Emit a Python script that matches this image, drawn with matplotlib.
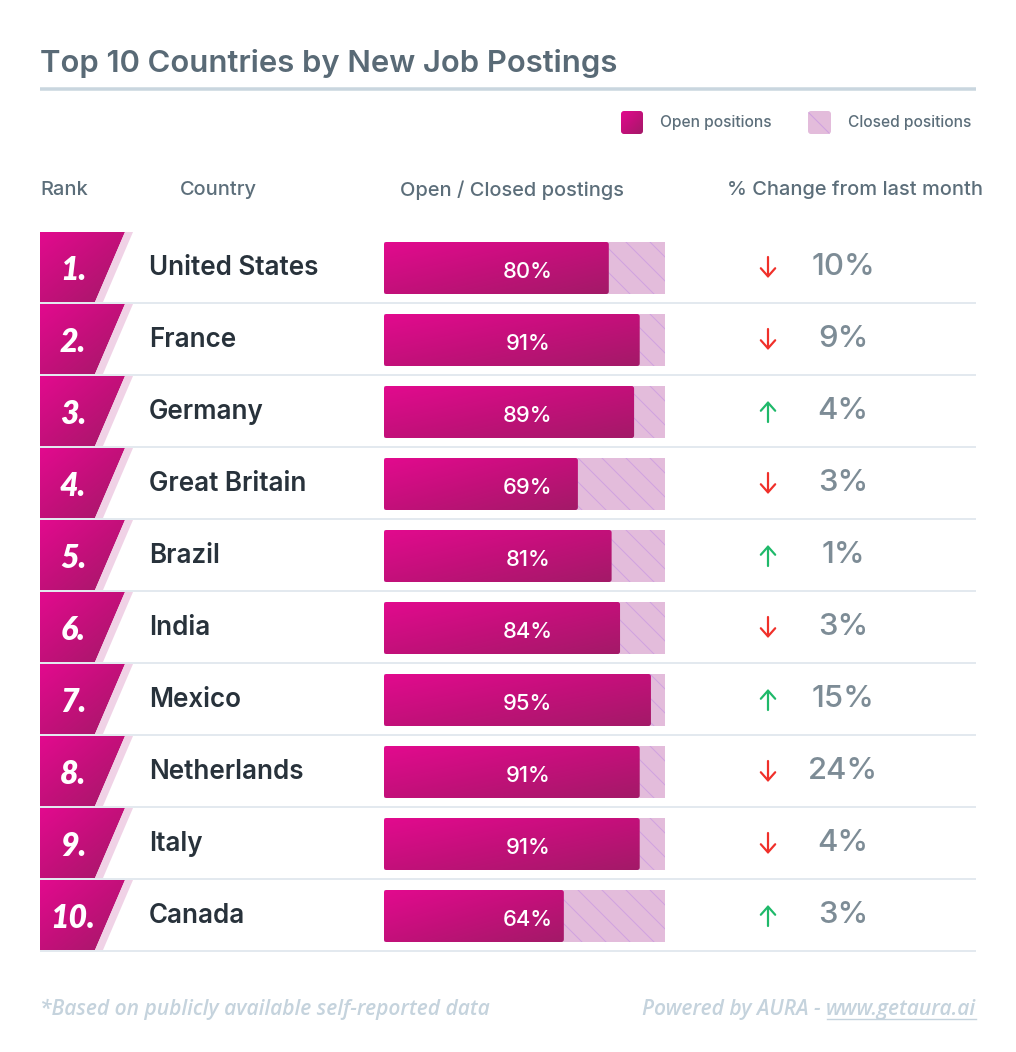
import numpy as np
import matplotlib.pyplot as plt
from matplotlib.patches import Polygon, FancyBboxPatch
from matplotlib.colors import LinearSegmentedColormap

# datos de la tabla
ranks = ['1.', '2.', '3.', '4.', '5.', '6.', '7.', '8.', '9.', '10.']
countries = ['United States', 'France', 'Germany', 'Great Britain', 'Brazil',
             'India', 'Mexico', 'Netherlands', 'Italy', 'Canada']
open_pct = [80, 91, 89, 69, 81, 84, 95, 91, 91, 64]
change_pct = [-10, -9, 4, -3, 1, -3, 15, -24, -4, 3]
headers = ['Rank', 'Country', 'Open / Closed postings', '% Change from last month']

W, H = 1016, 1052
DPI = 72
fig = plt.figure(figsize=(W / DPI, H / DPI), dpi=DPI)
fig.patch.set_facecolor('white')

FONT = 'Inter'
ITAL = 'Open Sans'
MAGENTA = LinearSegmentedColormap.from_list('mag', ['#e20a8e', '#c3107a', '#a31a68'])
grad = np.add.outer(np.linspace(0, 1, 60), np.linspace(0, 1, 120)) / 2

# ejes principales en pixeles
ax = fig.add_axes([0, 0, 1, 1])
ax.set_xlim(0, W)
ax.set_ylim(H, 0)
ax.axis('off')

def gradient_fill(axis, patch, extent):
    '''
    Rellena un parche con un degradado magenta
    '''
    axis.add_patch(patch)
    im = axis.imshow(grad, cmap=MAGENTA, extent=extent, aspect='auto',
                     interpolation='bilinear', zorder=patch.get_zorder())
    im.set_clip_path(patch)

# título
ax.text(40, 63, 'Top 10 Countries by New Job Postings', fontsize=31,
        fontfamily=FONT, fontweight='semibold', color='#596a76', va='center')
ax.plot([40, 976], [89, 89], color='#c9d6df', lw=3.5, solid_capstyle='butt')

# leyenda
p = FancyBboxPatch((621, 111), 22, 23, boxstyle='round,pad=0,rounding_size=3',
                   facecolor='none', edgecolor='none')
gradient_fill(ax, p, (621, 643, 134, 111))
ax.text(660, 123, 'Open positions', fontsize=15.5, fontfamily=FONT,
        fontweight='medium', color='#5c6e7a', va='center')
ax.add_patch(FancyBboxPatch((808, 111), 23, 23, boxstyle='round,pad=0,rounding_size=3',
                            facecolor='#e3bcdb', edgecolor='#cfa0e0', lw=0,
                            hatch='\\'))
ax.text(848, 123, 'Closed positions', fontsize=15.5, fontfamily=FONT,
        fontweight='medium', color='#5c6e7a', va='center')

# cabeceras
hx = [40, 180, 512, 855]
ha = ['left', 'left', 'center', 'center']
for x, h, a in zip(hx, headers, ha):
    ax.text(x, 190, h, fontsize=20, fontfamily=FONT, fontweight='medium',
            color='#5c6e7a', ha=a, va='center')

# filas
top, rowh = 232, 72
for i in range(len(ranks)):
    y0 = top + i * rowh
    yc = y0 + 36
    # bloque del rango
    poly = Polygon([(40, y0), (125, y0), (95, y0 + 70), (40, y0 + 70)],
                   closed=True, facecolor='none', edgecolor='none', zorder=2)
    gradient_fill(ax, poly, (40, 125, y0 + 70, y0))
    ax.add_patch(Polygon([(125, y0), (133, y0), (103, y0 + 70), (95, y0 + 70)],
                         closed=True, facecolor='#f0d2e6', edgecolor='none', zorder=2))
    ax.text(73, yc + 3, ranks[i], fontsize=32, fontfamily='Lato', fontweight='heavy',
            fontstyle='italic', color='white', ha='center', va='center', zorder=3)
    ax.text(149, yc, countries[i], fontsize=26, fontfamily=FONT,
            fontweight='semibold', color='#28323b', va='center')
    # separador
    ax.plot([40, 976], [y0 + 71, y0 + 71], color='#e3e9ef', lw=2,
            solid_capstyle='butt')
    # flecha y cambio
    c = change_pct[i]
    col = '#f0302a' if c < 0 else '#1fb96a'
    if c < 0:
        ax.annotate('', xy=(768, yc + 10), xytext=(768, yc - 11),
                    arrowprops=dict(arrowstyle='->,head_length=0.45,head_width=0.4',
                                    color=col, lw=2.2, mutation_scale=18,
                                    shrinkA=0, shrinkB=0))
    else:
        ax.annotate('', xy=(768, yc - 11), xytext=(768, yc + 10),
                    arrowprops=dict(arrowstyle='->,head_length=0.45,head_width=0.4',
                                    color=col, lw=2.2, mutation_scale=18,
                                    shrinkA=0, shrinkB=0))
    ax.text(843, yc - 1, f'{abs(c)}%', fontsize=31, fontfamily=FONT,
            fontweight='medium', color='#7d8c96', ha='center', va='center')

# barras abiertas / cerradas
bx = fig.add_axes([384 / W, 1 - (top + 10 * rowh) / H, 281 / W, 10 * rowh / H])
bx.set_xlim(0, 100)
bx.set_ylim(10, 0)
bx.axis('off')
bx.patch.set_alpha(0)
ypos = np.arange(len(open_pct)) + 0.5
bh = 52 / rowh
asp = (100 / 281) / (1 / rowh)
closed = bx.barh(ypos, [100] * len(open_pct), height=bh, color='#e3bcdb',
                 edgecolor='#d0a2e0', linewidth=0, hatch='\\')
opened = bx.barh(ypos, open_pct, height=bh, color='none', edgecolor='none')
for rect, v in zip(opened, open_pct):
    x, y = rect.get_x(), rect.get_y()
    w, h = rect.get_width(), rect.get_height()
    fb = FancyBboxPatch((x, y), w, h, boxstyle='round,pad=0,rounding_size=0.9',
                        mutation_aspect=1 / asp, facecolor='none', edgecolor='none',
                        zorder=3)
    gradient_fill(bx, fb, (x, x + w, y + h, y))
    bx.text(51.2, y + h / 2 + 0.06, f'{v}%', fontsize=22, fontfamily=FONT,
            fontweight='medium', color='white', ha='center', va='center', zorder=4)
bx.set_xlim(0, 100)
bx.set_ylim(10, 0)

# pie de página
foot = dict(fontsize=21, fontfamily=ITAL, fontstyle='italic', fontweight='semibold',
            color='#c5d3dd', va='center')
ax.text(40, 1009, '*Based on publicly available self-reported data', **foot)
url = ax.text(976, 1009, 'www.getaura.ai', ha='right', **foot)
fig.canvas.draw()
bb = url.get_window_extent().transformed(ax.transData.inverted())
ax.text(bb.x0, 1009, 'Powered by AURA - ', ha='right', **foot)
ax.plot([bb.x0 + 1, bb.x1], [1019, 1019], color='#c5d3dd', lw=1.4)

fig.savefig('out.png', dpi=DPI, facecolor='white')
